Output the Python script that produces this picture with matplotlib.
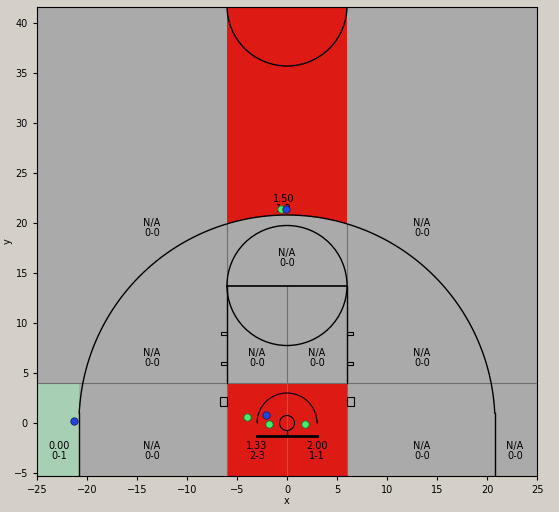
import numpy as np
import matplotlib.pyplot as plt
from matplotlib.patches import Circle, Arc, Rectangle, Polygon

# zone labels: (x, y, fg pct, made-attempted)
zone_x = [-13.5, 13.5, 0, -13.5, -3, 3, 13.5, -22.8, -13.5, -3, 3, 13.5, 22.8, -0.3]
zone_y = [19.5, 19.5, 16.5, 6.5, 6.5, 6.5, 6.5, -2.8, -2.8, -2.8, -2.8, -2.8, -2.8, 21.9]
zone_pct = ["N/A", "N/A", "N/A", "N/A", "N/A", "N/A", "N/A", "0.00", "N/A", "1.33", "2.00", "N/A", "N/A", "1.50"]
zone_rec = ["0-0", "0-0", "0-0", "0-0", "0-0", "0-0", "0-0", "0-1", "0-0", "2-3", "1-1", "0-0", "0-0", "1-2"]

# shots
made_x = [-4.0, -1.8, 1.8, -0.6]
made_y = [0.6, -0.1, -0.1, 21.4]
miss_x = [-2.1, -0.1, -21.3]
miss_y = [0.8, 21.4, 0.2]

RED = "#dd1a14"
GRAY = "#aaaaaa"
GREEN = "#a7cfb3"
R3 = 20.8
YMIN, YMAX = -5.3, 41.6

fig = plt.figure(figsize=(5.59, 5.12), dpi=100, facecolor="#d4d0c8")
ax = fig.add_axes([37 / 559, 36 / 512, 500 / 559, 469 / 512])
ax.set_facecolor(GRAY)
ax.set_xlim(-25, 25)
ax.set_ylim(YMIN, YMAX)

# colored zones
ax.add_patch(Rectangle((-6, YMIN), 12, 4 - YMIN, color=RED, lw=0, zorder=0))
ax.add_patch(Rectangle((-25, YMIN), 25 - R3, 4 - YMIN, color=GREEN, lw=0, zorder=0))
xs = np.linspace(-6, 6, 50)
top = np.column_stack([xs, np.sqrt(R3 ** 2 - xs ** 2)])
poly = np.vstack([top, [[6, YMAX], [-6, YMAX]]])
ax.add_patch(Polygon(poly, color=RED, lw=0, zorder=0))

# gray guide lines
ax.axhline(4, color="#707070", lw=0.8, zorder=1)
ax.plot([0, 0], [YMIN, 13.75], color="#707070", lw=0.8, zorder=1)
for sx in (-6, 6):
    ax.plot([sx, sx], [13.75, np.sqrt(R3 ** 2 - 36)], color="#707070", lw=0.8, zorder=1)
    ax.plot([sx, sx], [4, 13.75], color="black", lw=1, zorder=2)
    ax.plot([sx, sx], [YMIN, 4], color="#707070", lw=0.8, zorder=1)
    d = 1 if sx > 0 else -1
    for hy in (9, 6):
        ax.add_patch(Rectangle((min(sx, sx + d * 0.6), hy - 0.15), 0.6, 0.3, fill=False, lw=0.8, zorder=2))
    ax.add_patch(Rectangle((min(sx, sx + d * 0.7), 1.7), 0.7, 0.9, fill=False, lw=0.8, zorder=2))

# court lines
ax.plot([-6, 6], [13.75, 13.75], color="black", lw=1.2, zorder=2)
ax.add_patch(Circle((0, 13.75), 6, fill=False, lw=1, zorder=2))
ax.add_patch(Circle((0, YMAX + 0.1), 6, fill=False, lw=1, zorder=2))
th = np.linspace(np.arcsin(1.0 / R3), np.pi - np.arcsin(1.0 / R3), 300)
ax.plot(R3 * np.cos(th), R3 * np.sin(th), color="black", lw=1, zorder=2)
for sx in (-R3, R3):
    ax.plot([sx * np.cos(np.arcsin(1.0 / R3))] * 2, [YMIN, 1.0], color="black", lw=1, zorder=2)
ax.add_patch(Arc((0, 0), 6, 6, theta1=0, theta2=180, lw=0.8, zorder=2))
ax.plot([-3, -3], [0, 0.3], color="black", lw=0.8, zorder=2)
ax.plot([3, 3], [0, 0.3], color="black", lw=0.8, zorder=2)
ax.add_patch(Circle((0, 0), 0.75, fill=False, lw=0.8, zorder=2))
ax.plot([0, 0], [-0.75, -1.25], color="black", lw=1, zorder=2)
ax.plot([-3, 3], [-1.25, -1.25], color="black", lw=2, zorder=2)

# labels
for x, y, p, r in zip(zone_x, zone_y, zone_pct, zone_rec):
    ax.text(x, y, f"{p}\n{r}", ha="center", va="center", fontsize=7, linespacing=0.9, zorder=3)

ax.scatter(made_x, made_y, s=28, color="#44ee66", edgecolors="#226633", lw=0.6, zorder=4)
ax.scatter(miss_x, miss_y, s=28, color="#2244dd", edgecolors="#112266", lw=0.6, zorder=4)

ax.set_xticks(range(-25, 26, 5))
ax.set_yticks(range(-5, 41, 5))
ax.tick_params(labelsize=7, length=3)
ax.set_xlabel("x", fontsize=7, labelpad=1)
ax.set_ylabel("y", fontsize=7, labelpad=1)

fig.savefig("out.png", dpi=100, facecolor=fig.get_facecolor())
